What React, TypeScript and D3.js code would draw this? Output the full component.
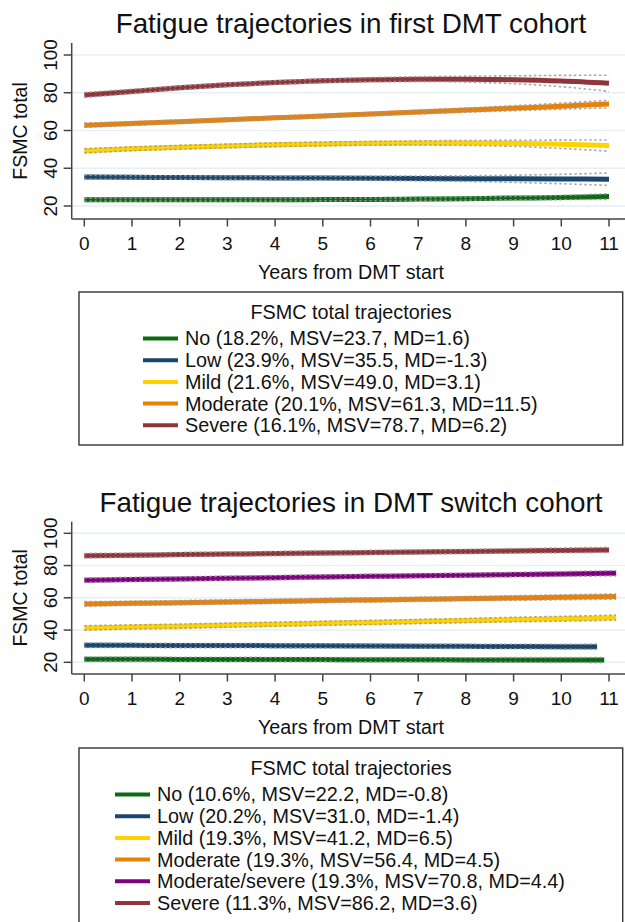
import React from 'react'
import * as d3 from 'd3'

// years on the x axis
const years = [0, 1, 2, 3, 4, 5, 6, 7, 8, 9, 10, 11]
const yTicks = [20, 40, 60, 80, 100]
const xTicks = [0, 1, 2, 3, 4, 5, 6, 7, 8, 9, 10, 11]

// first DMT cohort: estimated trajectories and CI half widths
const firstNo = [23.3, 23.3, 23.3, 23.3, 23.3, 23.4, 23.5, 23.7, 23.9, 24.2, 24.5, 25.0]
const firstNoCI = [0.8, 0.7, 0.7, 0.7, 0.7, 0.7, 0.7, 0.7, 0.8, 0.9, 1.1, 1.5]
const firstLow = [35.3, 35.2, 35.1, 35.0, 34.9, 34.8, 34.7, 34.6, 34.5, 34.4, 34.3, 34.2]
const firstLowCI = [1.0, 0.9, 0.9, 0.9, 0.9, 1.0, 1.1, 1.3, 1.5, 1.9, 2.5, 3.3]
const firstMild = [49.2, 50.3, 51.1, 51.8, 52.4, 52.9, 53.2, 53.4, 53.4, 53.2, 52.7, 52.0]
const firstMildCI = [1.2, 1.0, 1.0, 1.0, 1.0, 1.0, 1.0, 1.1, 1.3, 1.6, 2.2, 3.0]
const firstModerate = [62.8, 63.7, 64.7, 65.7, 66.7, 67.7, 68.7, 69.8, 70.8, 71.8, 72.9, 74.0]
const firstModerateCI = [1.1, 1.0, 0.9, 0.9, 0.9, 0.9, 0.9, 1.0, 1.1, 1.3, 1.6, 2.0]
const firstSevere = [78.8, 80.7, 82.6, 84.2, 85.4, 86.3, 86.9, 87.2, 87.2, 86.9, 86.2, 85.0]
const firstSevereCI = [1.3, 1.1, 1.0, 1.0, 1.0, 1.0, 1.1, 1.3, 1.6, 2.1, 3.0, 4.3]

const firstLabels = [
  'No (18.2%, MSV=23.7, MD=1.6)',
  'Low (23.9%, MSV=35.5, MD=-1.3)',
  'Mild (21.6%, MSV=49.0, MD=3.1)',
  'Moderate (20.1%, MSV=61.3, MD=11.5)',
  'Severe (16.1%, MSV=78.7, MD=6.2)',
]

// DMT switch cohort: values at years 0..10 and at the last follow-up year
const switchEnd = [10.9, 10.75, 11.15, 11.15, 11.15, 11.0]
const switchNo = [21.9, 21.9, 21.8, 21.8, 21.7, 21.7, 21.6, 21.6, 21.5, 21.5, 21.4, 21.4]
const switchLow = [30.6, 30.5, 30.4, 30.4, 30.3, 30.2, 30.1, 30.0, 29.9, 29.8, 29.7, 29.7]
const switchMild = [41.3, 41.9, 42.4, 43.0, 43.6, 44.2, 44.7, 45.3, 45.9, 46.5, 47.0, 47.7]
const switchModerate = [56.2, 56.6, 57.0, 57.4, 57.8, 58.3, 58.7, 59.1, 59.5, 59.9, 60.3, 60.8]
const switchModSevere = [70.9, 71.3, 71.7, 72.1, 72.5, 72.9, 73.3, 73.7, 74.0, 74.4, 74.8, 75.2]
const switchSevere = [86.1, 86.4, 86.8, 87.1, 87.4, 87.8, 88.1, 88.4, 88.7, 89.1, 89.4, 89.7]
const switchCI = [1.4, 1.3, 1.3, 1.3, 1.3, 1.3, 1.3, 1.3, 1.3, 1.4, 1.5, 1.6]

const switchLabels = [
  'No (10.6%, MSV=22.2, MD=-0.8)',
  'Low (20.2%, MSV=31.0, MD=-1.4)',
  'Mild (19.3%, MSV=41.2, MD=6.5)',
  'Moderate (19.3%, MSV=56.4, MD=4.5)',
  'Moderate/severe (19.3%, MSV=70.8, MD=4.4)',
  'Severe (11.3%, MSV=86.2, MD=3.6)',
]

const green = '#0d6a14'
const navy = '#1a476f'
const gold = '#ffd200'
const orange = '#e8810a'
const maroon = '#90353b'
const purple = '#800080'

const font = '"Liberation Sans", Arial, sans-serif'

type Series = { xs: number[]; ys: number[]; ci: number[]; color: string }

const firstSeries: Series[] = [
  { xs: years, ys: firstNo, ci: firstNoCI, color: green },
  { xs: years, ys: firstLow, ci: firstLowCI, color: navy },
  { xs: years, ys: firstMild, ci: firstMildCI, color: gold },
  { xs: years, ys: firstModerate, ci: firstModerateCI, color: orange },
  { xs: years, ys: firstSevere, ci: firstSevereCI, color: maroon },
]

const switchX = (end: number) => years.slice(0, 11).concat([end])
const switchSeries: Series[] = [
  { xs: switchX(switchEnd[0]), ys: switchNo, ci: switchCI, color: green },
  { xs: switchX(switchEnd[1]), ys: switchLow, ci: switchCI, color: navy },
  { xs: switchX(switchEnd[2]), ys: switchMild, ci: switchCI, color: gold },
  { xs: switchX(switchEnd[3]), ys: switchModerate, ci: switchCI, color: orange },
  { xs: switchX(switchEnd[4]), ys: switchModSevere, ci: switchCI, color: purple },
  { xs: switchX(switchEnd[5]), ys: switchSevere, ci: switchCI, color: maroon },
]

type PanelProps = {
  title: string
  titleY: number
  plotTop: number
  axisY: number
  y20: number
  y100: number
  series: Series[]
  labels: string[]
  legendTop: number
  legendBottom: number
  swatchX: number
}

function Panel(p: PanelProps) {
  const axisX = 71.7
  const right = 625
  const x = d3.scaleLinear().domain([0, 11]).range([84.3, 609])
  const y = d3.scaleLinear().domain([20, 100]).range([p.y20, p.y100])
  const line = d3
    .line<[number, number]>()
    .x(d => x(d[0]))
    .y(d => y(d[1]))
    .curve(d3.curveMonotoneX)

  const midX = 351
  const legendStep = 21.7
  const firstEntry = p.legendTop + 46.5

  return (
    <g fontFamily={font}>
      <text x={midX} y={p.titleY} textAnchor="middle" fontSize={27.8} fill="#111">
        {p.title}
      </text>

      {yTicks.map(t => (
        <line key={'g' + t} x1={axisX} x2={right} y1={y(t)} y2={y(t)} stroke="#e6eff1" strokeWidth={1.5} />
      ))}

      {p.series.map((s, i) => {
        const mid = s.xs.map((v, j) => [v, s.ys[j]] as [number, number])
        const hi = s.xs.map((v, j) => [v, s.ys[j] + s.ci[j]] as [number, number])
        const lo = s.xs.map((v, j) => [v, s.ys[j] - s.ci[j]] as [number, number])
        return (
          <g key={i}>
            <path d={line(mid) || ''} fill="none" stroke={s.color} strokeWidth={5} />
            <path d={line(hi) || ''} fill="none" stroke="#9a9a9a" strokeWidth={1.6} strokeDasharray="2.5,2.5" opacity={0.85} />
            <path d={line(lo) || ''} fill="none" stroke="#9a9a9a" strokeWidth={1.6} strokeDasharray="2.5,2.5" opacity={0.85} />
          </g>
        )
      })}

      <line x1={axisX} x2={axisX} y1={p.plotTop} y2={p.axisY} stroke="#444" strokeWidth={1.5} />
      <line x1={axisX} x2={right} y1={p.axisY} y2={p.axisY} stroke="#444" strokeWidth={1.5} />

      {yTicks.map(t => (
        <g key={'y' + t}>
          <line x1={axisX - 8} x2={axisX} y1={y(t)} y2={y(t)} stroke="#444" strokeWidth={1.5} />
          <text
            transform={`translate(50,${y(t)}) rotate(-90)`}
            textAnchor="middle"
            dy="0.35em"
            fontSize={19}
            fill="#111"
          >
            {t}
          </text>
        </g>
      ))}
      <text
        transform={`translate(20,${(p.plotTop + p.axisY) / 2}) rotate(-90)`}
        textAnchor="middle"
        dy="0.35em"
        fontSize={19.5}
        fill="#111"
      >
        FSMC total
      </text>

      {xTicks.map(t => (
        <g key={'x' + t}>
          <line x1={x(t)} x2={x(t)} y1={p.axisY} y2={p.axisY + 7.5} stroke="#444" strokeWidth={1.5} />
          <text x={x(t)} y={p.axisY + 24} textAnchor="middle" dy="0.35em" fontSize={19} fill="#111">
            {t}
          </text>
        </g>
      ))}
      <text x={midX} y={p.axisY + 53} textAnchor="middle" dy="0.35em" fontSize={19.7} fill="#111">
        Years from DMT start
      </text>

      <rect
        x={79}
        y={p.legendTop}
        width={543.7}
        height={p.legendBottom - p.legendTop}
        fill="none"
        stroke="#333"
        strokeWidth={1.4}
      />
      <text x={midX} y={p.legendTop + 20} textAnchor="middle" dy="0.35em" fontSize={19.8} fill="#111">
        FSMC total trajectories
      </text>
      {p.labels.map((lab, i) => {
        const cy = firstEntry + i * legendStep
        return (
          <g key={'l' + i}>
            <line x1={p.swatchX} x2={p.swatchX + 35} y1={cy} y2={cy} stroke={p.series[i].color} strokeWidth={4} />
            <text x={p.swatchX + 42} y={cy} dy="0.35em" fontSize={19.8} fill="#111">
              {lab}
            </text>
          </g>
        )
      })}
    </g>
  )
}

export default function App() {
  return (
    <svg
      width={625}
      height={922}
      style={{ position: 'absolute', left: 0, top: 0, background: '#fff' }}
    >
      <rect width={625} height={922} fill="#fff" />
      <Panel
        title="Fatigue trajectories in first DMT cohort"
        titleY={33}
        plotTop={43}
        axisY={219}
        y20={206}
        y100={55}
        series={firstSeries}
        labels={firstLabels}
        legendTop={292}
        legendBottom={445}
        swatchX={143}
      />
      <Panel
        title="Fatigue trajectories in DMT switch cohort"
        titleY={512}
        plotTop={521.7}
        axisY={674}
        y20={662.3}
        y100={533.3}
        series={switchSeries}
        labels={switchLabels}
        legendTop={748}
        legendBottom={930}
        swatchX={115}
      />
    </svg>
  )
}
